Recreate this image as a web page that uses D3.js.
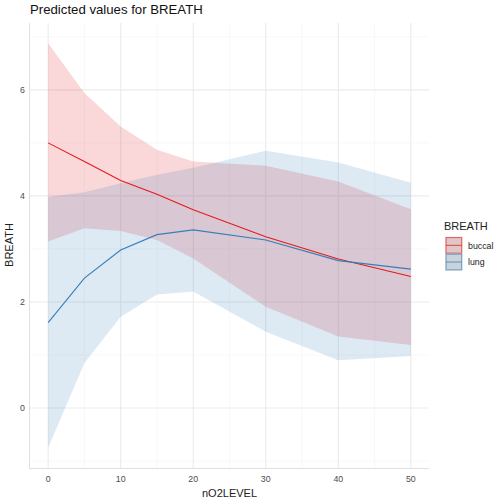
<!DOCTYPE html>
<html><head><meta charset="utf-8">
<script src="https://cdn.jsdelivr.net/npm/d3@7"></script>
<style>body{margin:0;background:#fff;font-family:"Liberation Sans",Arial,sans-serif}</style>
</head><body><div id="chart"></div>
<script>
const xs = [0, 5, 10, 15, 20, 30, 40, 50];
const groups = ["buccal", "lung"];
const buccalFit = [5.0, 4.65, 4.29, 4.03, 3.74, 3.23, 2.81, 2.48];
const buccalLow = [3.14, 3.39, 3.34, 3.17, 2.82, 1.91, 1.35, 1.19];
const buccalHigh = [6.88, 5.94, 5.31, 4.87, 4.65, 4.57, 4.27, 3.75];
const lungFit = [1.61, 2.45, 2.98, 3.27, 3.36, 3.17, 2.78, 2.62];
const lungLow = [-0.75, 0.85, 1.72, 2.14, 2.2, 1.44, 0.9, 0.98];
const lungHigh = [3.98, 4.07, 4.24, 4.40, 4.53, 4.85, 4.63, 4.25];
const xTicks = [0, 10, 20, 30, 40, 50];
const yTicks = [0, 2, 4, 6];
const colors = ["#E41A1C", "#377EB8"];

const W = 504, H = 504;
const svg = d3.select("#chart").append("svg").attr("width", W).attr("height", H);
const x = d3.scaleLinear().domain([-2.5, 52.5]).range([30, 429]);
const y = d3.scaleLinear().domain([-1.13, 7.26]).range([468, 23]);

// grid
const g = svg.append("g");
const minorX = [5, 15, 25, 35, 45], minorY = [-1, 1, 3, 5, 7];
g.selectAll(".mx").data(minorX).enter().append("line")
  .attr("x1", d => x(d)).attr("x2", d => x(d)).attr("y1", 23).attr("y2", 468)
  .attr("stroke", "#f3f3f3").attr("stroke-width", 0.6);
g.selectAll(".my").data(minorY).enter().append("line")
  .attr("y1", d => y(d)).attr("y2", d => y(d)).attr("x1", 30).attr("x2", 429)
  .attr("stroke", "#f3f3f3").attr("stroke-width", 0.6);
g.selectAll(".Mx").data(xTicks).enter().append("line")
  .attr("x1", d => x(d)).attr("x2", d => x(d)).attr("y1", 23).attr("y2", 468)
  .attr("stroke", "#ebebeb").attr("stroke-width", 1.1);
g.selectAll(".My").data(yTicks).enter().append("line")
  .attr("y1", d => y(d)).attr("y2", d => y(d)).attr("x1", 30).attr("x2", 429)
  .attr("stroke", "#ebebeb").attr("stroke-width", 1.1);
// axis lines
g.append("line").attr("x1", 29.5).attr("x2", 29.5).attr("y1", 23).attr("y2", 469)
  .attr("stroke", "#e0e0e0").attr("stroke-width", 1);
g.append("line").attr("x1", 29).attr("x2", 429).attr("y1", 468.5).attr("y2", 468.5)
  .attr("stroke", "#e0e0e0").attr("stroke-width", 1);

const series = [
  {name: groups[0], fit: buccalFit, low: buccalLow, high: buccalHigh, color: colors[0]},
  {name: groups[1], fit: lungFit, low: lungLow, high: lungHigh, color: colors[1]}
];
const area = d3.area().x(d => x(d.x)).y0(d => y(d.lo)).y1(d => y(d.hi));
const line = d3.line().x(d => x(d.x)).y(d => y(d.v));
series.forEach(s => {
  const pts = xs.map((xv, i) => ({x: xv, lo: s.low[i], hi: s.high[i], v: s.fit[i]}));
  svg.append("path").datum(pts).attr("d", area).attr("fill", s.color).attr("fill-opacity", 0.17);
});
series.forEach(s => {
  const pts = xs.map((xv, i) => ({x: xv, v: s.fit[i]}));
  svg.append("path").datum(pts).attr("d", line).attr("fill", "none")
    .attr("stroke", s.color).attr("stroke-width", 1.1);
});

// axes text
svg.selectAll(".xt").data(xTicks).enter().append("text")
  .attr("x", d => x(d)).attr("y", 482).attr("text-anchor", "middle")
  .attr("font-size", 8.8).attr("fill", "#4d4d4d").text(d => d);
svg.selectAll(".yt").data(yTicks).enter().append("text")
  .attr("x", 25).attr("y", d => y(d) + 3).attr("text-anchor", "end")
  .attr("font-size", 8.8).attr("fill", "#4d4d4d").text(d => d);
svg.append("text").attr("x", 229.5).attr("y", 497).attr("text-anchor", "middle")
  .attr("font-size", 11).attr("fill", "#222").text("nO2LEVEL");
svg.append("text").attr("transform", "translate(13,245) rotate(-90)").attr("text-anchor", "middle")
  .attr("font-size", 11).attr("fill", "#222").text("BREATH");
svg.append("text").attr("x", 30).attr("y", 14).attr("font-size", 13.2).attr("fill", "#111")
  .text("Predicted values for BREATH");

// legend
const lg = svg.append("g");
lg.append("text").attr("x", 444).attr("y", 230).attr("font-size", 11).attr("fill", "#222").text("BREATH");
series.forEach((s, i) => {
  const ky = 237 + i * 16.7;
  lg.append("rect").attr("x", 445.5).attr("y", ky).attr("width", 16.7).attr("height", 16.7)
    .attr("fill", "#e0e0e0");
  lg.append("rect").attr("x", 446).attr("y", ky + 0.5).attr("width", 15.7).attr("height", 15.7)
    .attr("fill", s.color).attr("fill-opacity", 0.12).attr("stroke", s.color).attr("stroke-opacity", 0.6).attr("stroke-width", 1.2);
  lg.append("line").attr("x1", 446).attr("x2", 461.7).attr("y1", ky + 8.35).attr("y2", ky + 8.35)
    .attr("stroke", s.color).attr("stroke-opacity", 0.7).attr("stroke-width", 1.1);
  lg.append("text").attr("x", 468).attr("y", ky + 11.5).attr("font-size", 8.8).attr("fill", "#222").text(s.name);
});
</script></body></html>
